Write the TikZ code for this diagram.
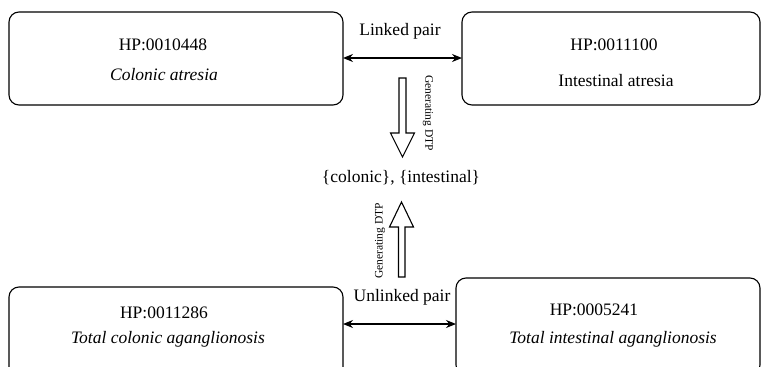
\documentclass[tikz,border=0pt]{standalone}
\usepackage{fontspec}
\setmainfont{Liberation Serif}
\usetikzlibrary{arrows.meta}
\begin{document}
\begin{tikzpicture}[x=1pt,y=-1pt,
  box/.style={draw,rounded corners=10pt,line width=1.1pt,inner sep=0pt},
  lbl/.style={font=\fontsize{17.5}{20}\selectfont,inner sep=0pt},
  small/.style={font=\fontsize{11.5}{13}\selectfont,inner sep=0pt},
  pair/.style={{Stealth[length=10pt,width=8pt]}-{Stealth[length=10pt,width=8pt]},line width=1.2pt},
  hollow/.style={draw,line width=1.1pt,fill=white}]
\useasboundingbox (0,0) rectangle (761,367);
\clip (0,0) rectangle (761,367);
% boxes
\node[box,minimum width=334pt,minimum height=93pt] (tl) at (176,58.5) {};
\node[box,minimum width=298pt,minimum height=93pt] (tr) at (611,58.5) {};
\node[box,minimum width=334pt,minimum height=93pt] (bl) at (176,333.5) {};
\node[box,minimum width=304pt,minimum height=97pt] (br) at (608,326.5) {};
% box texts
\node[lbl] (tlid) at (163,45) {HP:0010448};
\node[lbl] (tlname) at (164,75) {\itshape Colonic atresia};
\node[lbl] (trid) at (614,45) {HP:0011100};
\node[lbl] (trname) at (616,81) {Intestinal atresia};
\node[lbl] (blid) at (164,313) {HP:0011286};
\node[lbl] (blname) at (168,339) {\itshape Total colonic aganglionosis};
\node[lbl] (brid) at (594,310) {HP:0005241};
\node[lbl] (brname) at (613,339) {\itshape Total intestinal aganglionosis};
% pair connectors
\node[lbl] (linked) at (400,31) {Linked pair};
\node[lbl] (unlinked) at (402,297) {Unlinked pair};
\coordinate (tly) at (343,58);
\coordinate (try) at (462,58);
\draw[pair] (tly) -- (try);
\coordinate (bly) at (343,324);
\coordinate (bry) at (456,324);
\draw[pair] (bly) -- (bry);
% centre
\node[lbl] (dtp) at (401,178) {\{colonic\}, \{intestinal\}};
% hollow arrows
\draw[hollow] (399,78) -- (406,78) -- (406,133) -- (414.5,133) -- (402.5,157) -- (390.5,133) -- (399,133) -- cycle;
\draw[hollow] (398.5,277) -- (405,277) -- (405,227) -- (413.5,227) -- (401.5,202) -- (389.5,227) -- (398.5,227) -- cycle;
\node[small,rotate=-90] (gen1) at (428,113) {Generating DTP};
\node[small,rotate=90] (gen2) at (380,241) {Generating DTP};
\end{tikzpicture}
\end{document}
